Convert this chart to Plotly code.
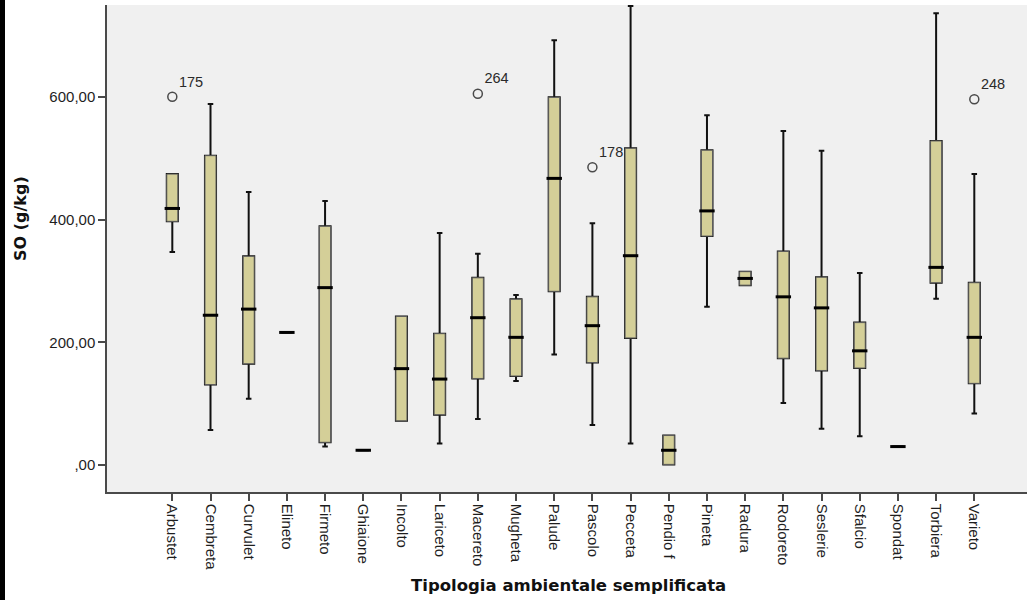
import plotly.graph_objects as go

# Soil organic matter (SO, g/kg) by simplified habitat type
categories = ["Arbustet", "Cembreta", "Curvulet", "Elineto", "Firmeto", "Ghiaione",
              "Incolto", "Lariceto", "Macereto", "Mugheta", "Palude", "Pascolo",
              "Pecceta", "Pendio f", "Pineta", "Radura", "Rodoreto", "Seslerie",
              "Sfalcio", "Spondat", "Torbiera", "Varieto"]
lower_fence = [347, 57, 108, 216, 30, 24, 72, 35, 75, 137, 180, 65,
               35, 1, 258, 293, 101, 59, 47, 30, 271, 84]
q1 = [397, 131, 165, 216, 37, 24, 72, 82, 141, 145, 283, 167,
      207, 1, 373, 293, 174, 154, 158, 30, 297, 133]
median = [418, 244, 254, 216, 289, 24, 157, 140, 240, 208, 467, 227,
          341, 24, 414, 304, 274, 256, 186, 30, 322, 208]
q3 = [474, 504, 340, 216, 389, 24, 242, 214, 305, 270, 599, 274,
      516, 48, 513, 315, 348, 306, 232, 30, 528, 297]
upper_fence = [474, 588, 445, 216, 430, 24, 242, 378, 344, 277, 692, 394,
               748, 48, 570, 315, 544, 512, 313, 30, 736, 474]

# Outlying cases with their case numbers
outlier_cat = ["Arbustet", "Macereto", "Pascolo", "Varieto"]
outlier_val = [600, 605, 485, 596]
outlier_id = ["175", "264", "178", "248"]

y_tickvals = [0, 200, 400, 600]
y_ticktext = [",00", "200,00", "400,00", "600,00"]

BOX_FILL = "#D4CF98"
BOX_W = 0.29

fig = go.Figure()

# whiskers (black) with box
fig.add_trace(go.Box(
    x=categories, q1=q1, median=median, q3=q3,
    lowerfence=lower_fence, upperfence=upper_fence,
    width=BOX_W, whiskerwidth=0.5, fillcolor=BOX_FILL,
    line=dict(color="#111111", width=2), boxpoints=False,
    hoverinfo="skip", showlegend=False,
))
# box body with thin grey outline on top
fig.add_trace(go.Box(
    x=categories, q1=q1, median=median, q3=q3,
    lowerfence=q1, upperfence=q3,
    width=BOX_W, whiskerwidth=0, fillcolor=BOX_FILL,
    line=dict(color="#5c5c5c", width=1), boxpoints=False,
    hoverinfo="skip", showlegend=False,
))
# thick median bars
fig.add_trace(go.Scatter(
    x=categories, y=median, mode="markers",
    marker=dict(symbol="line-ew", size=11, line=dict(color="#000000", width=3)),
    hoverinfo="skip", showlegend=False,
))
# outliers with case labels
fig.add_trace(go.Scatter(
    x=outlier_cat, y=outlier_val, mode="markers+text",
    marker=dict(symbol="circle-open", size=9, color="#4a4a4a",
                line=dict(color="#4a4a4a", width=1.5)),
    text=outlier_id, textposition="top right",
    textfont=dict(family="Liberation Sans, Arial", size=14.5, color="#2a2a2a"),
    hoverinfo="skip", showlegend=False,
))

W, H = 1027, 601
L, R, T, B = 107, 0, 5, 109
pw, ph = W - L - R, H - T - B
STRIP = 5

fig.update_layout(
    width=W, height=H,
    margin=dict(l=L, r=R, t=T, b=B),
    paper_bgcolor="white", plot_bgcolor="#F0F0F0",
    boxmode="overlay",
    font=dict(family="Liberation Sans, Arial", size=14, color="#222222"),
    xaxis=dict(
        type="category", categoryorder="array", categoryarray=categories,
        range=[-1.71, 22.38], showgrid=False, zeroline=False,
        showline=True, linecolor="#4a4a4a", linewidth=1.5,
        ticks="outside", ticklen=7, tickcolor="#4a4a4a", tickwidth=1.5,
        tickangle=90, tickfont=dict(size=15, color="#1e1e1e"),
    ),
    yaxis=dict(
        range=[-44, 749.5], showgrid=False, zeroline=False,
        showline=True, linecolor="#4a4a4a", linewidth=1.5,
        ticks="outside", ticklen=7, tickcolor="#4a4a4a", tickwidth=1.5,
        tickvals=y_tickvals, ticktext=y_ticktext,
        tickfont=dict(size=15, color="#1e1e1e"),
    ),
    annotations=[
        dict(text="<b>Tipologia ambientale semplificata</b>", xref="paper", yref="paper",
             x=(568 - L) / pw, y=(H - B - 585) / ph, showarrow=False,
             xanchor="center", yanchor="middle",
             font=dict(family="DejaVu Sans", size=16.5, color="#111111")),
        dict(text="<b>SO (g/kg)</b>", xref="paper", yref="paper",
             x=(21 - L) / pw, y=(H - B - 219) / ph, showarrow=False, textangle=-90,
             xanchor="center", yanchor="middle",
             font=dict(family="DejaVu Sans", size=16, color="#111111")),
    ],
    shapes=[
        # dark strip along the left edge of the page
        dict(type="rect", xref="paper", yref="paper",
             x0=-L / pw, x1=(STRIP - L) / pw, y0=(1 - B) / ph, y1=1 + T / ph,
             fillcolor="#000000", line=dict(width=0), layer="above"),
    ],
)

fig.write_html("out.html")
